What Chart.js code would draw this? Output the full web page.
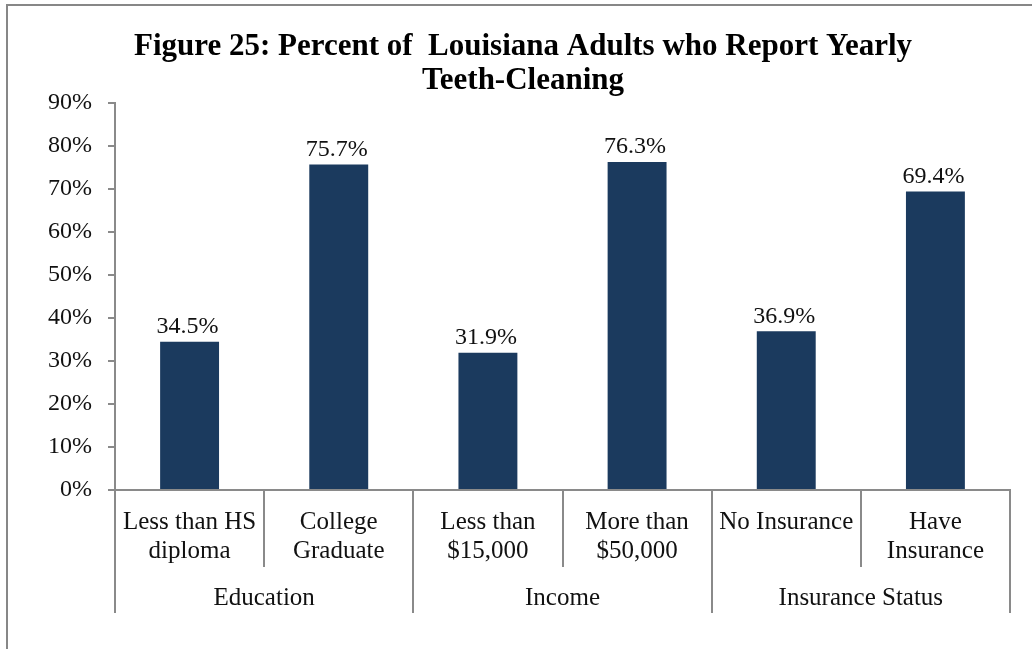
<!DOCTYPE html>
<html>
<head>
<meta charset="utf-8">
<script src="https://cdn.jsdelivr.net/npm/chart.js@4.4.1/dist/chart.umd.min.js"></script>
<style>
    body { margin: 0; background: #fff; }
    #wrap { position: relative; width: 1032px; height: 649px; overflow: hidden; }
    #frame { position: absolute; left: 6px; top: 4px; width: 1100px; height: 700px;
             border-top: 2px solid #878787; border-left: 2px solid #878787; }
    #chart { position: absolute; left: 0; top: 0; }
</style>
</head>
<body>
<div id="wrap">
    <div id="frame"></div>
    <canvas id="chart" width="1032" height="649"></canvas>
</div>
<script>
// --- dados ---
const categories = [
    ['Less than HS', 'diploma'],
    ['College', 'Graduate'],
    ['Less than', '$15,000'],
    ['More than', '$50,000'],
    ['No Insurance'],
    ['Have', 'Insurance']
];
const groups = ['Education', 'Income', 'Insurance Status'];
const groupSizes = [2, 2, 2];
const values = [34.5, 75.7, 31.9, 76.3, 36.9, 69.4];
const yTicks = [0, 10, 20, 30, 40, 50, 60, 70, 80, 90];

const FONT = '"Liberation Serif", "Times New Roman", serif';
const AXIS_GRAY = '#8a8a8a';

// rótulos de valor acima das barras
const valueLabels = {
    id: 'valueLabels',
    afterDatasetsDraw(chart) {
        const ctx = chart.ctx;
        const meta = chart.getDatasetMeta(0);
        ctx.save();
        ctx.font = '24px ' + FONT;
        ctx.fillStyle = '#111';
        ctx.textAlign = 'center';
        ctx.textBaseline = 'middle';
        meta.data.forEach(function(bar, i) {
            ctx.fillText(values[i].toFixed(1) + '%', bar.x - 2, bar.y - 15);
        });
        ctx.restore();
    }
};

// eixo x em dois níveis: divisórias e nomes dos grupos
const groupAxis = {
    id: 'groupAxis',
    afterDraw(chart) {
        const ctx = chart.ctx;
        const area = chart.chartArea;
        const step = (area.right - area.left) / categories.length;
        const edge = function(i) { return area.left + i * step; };

        const groupEdges = [0];
        groupSizes.forEach(function(n) { groupEdges.push(groupEdges[groupEdges.length - 1] + n); });

        ctx.save();
        ctx.strokeStyle = AXIS_GRAY;
        ctx.lineWidth = 2;
        for (let i = 0; i <= categories.length; i++) {
            const isGroup = groupEdges.indexOf(i) !== -1;
            const px = Math.round(edge(i));
            ctx.beginPath();
            ctx.moveTo(px, area.bottom);
            ctx.lineTo(px, area.bottom + (isGroup ? 123 : 77));
            ctx.stroke();
        }

        ctx.font = '25px ' + FONT;
        ctx.fillStyle = '#111';
        ctx.textAlign = 'center';
        ctx.textBaseline = 'middle';
        groups.forEach(function(g, k) {
            const cx = (edge(groupEdges[k]) + edge(groupEdges[k + 1])) / 2;
            ctx.fillText(g, cx, area.bottom + 108);
        });
        ctx.restore();
    }
};

const ctx = document.getElementById('chart').getContext('2d');

new Chart(ctx, {
    type: 'bar',
    data: {
        labels: categories,
        datasets: [{
            data: values,
            backgroundColor: '#1b3a5e',
            borderWidth: 0,
            categoryPercentage: 1,
            barPercentage: 0.395
        }]
    },
    options: {
        responsive: false,
        animation: false,
        layout: { padding: { left: 36, right: 22, top: 0, bottom: 0 } },
        scales: {
            x: {
                grid: { display: false },
                border: { display: true, color: AXIS_GRAY, width: 2 },
                ticks: {
                    color: '#111',
                    font: { family: FONT, size: 25, lineHeight: '29px' },
                    padding: 10,
                    maxRotation: 0,
                    autoSkip: false
                },
                afterFit: function(scale) { scale.height = 159; }
            },
            y: {
                min: 0,
                max: 90,
                afterBuildTicks: function(scale) {
                    scale.ticks = yTicks.map(function(v) { return { value: v }; });
                },
                grid: {
                    drawOnChartArea: false,
                    drawTicks: true,
                    tickLength: 7,
                    color: AXIS_GRAY,
                    lineWidth: 2
                },
                border: { display: true, color: AXIS_GRAY, width: 2 },
                ticks: {
                    color: '#111',
                    font: { family: FONT, size: 24 },
                    padding: 16,
                    callback: function(v) { return v + '%'; }
                },
                afterFit: function(scale) { scale.width = 79; }
            }
        },
        plugins: {
            legend: { display: false },
            tooltip: { enabled: false },
            title: {
                display: true,
                text: ['Figure 25: Percent of  Louisiana Adults who Report Yearly', 'Teeth-Cleaning'],
                color: '#000',
                font: { family: FONT, size: 31, weight: 'bold', lineHeight: '34px' },
                padding: { top: 30, bottom: 5 }
            }
        }
    },
    plugins: [valueLabels, groupAxis]
});
</script>
</body>
</html>
